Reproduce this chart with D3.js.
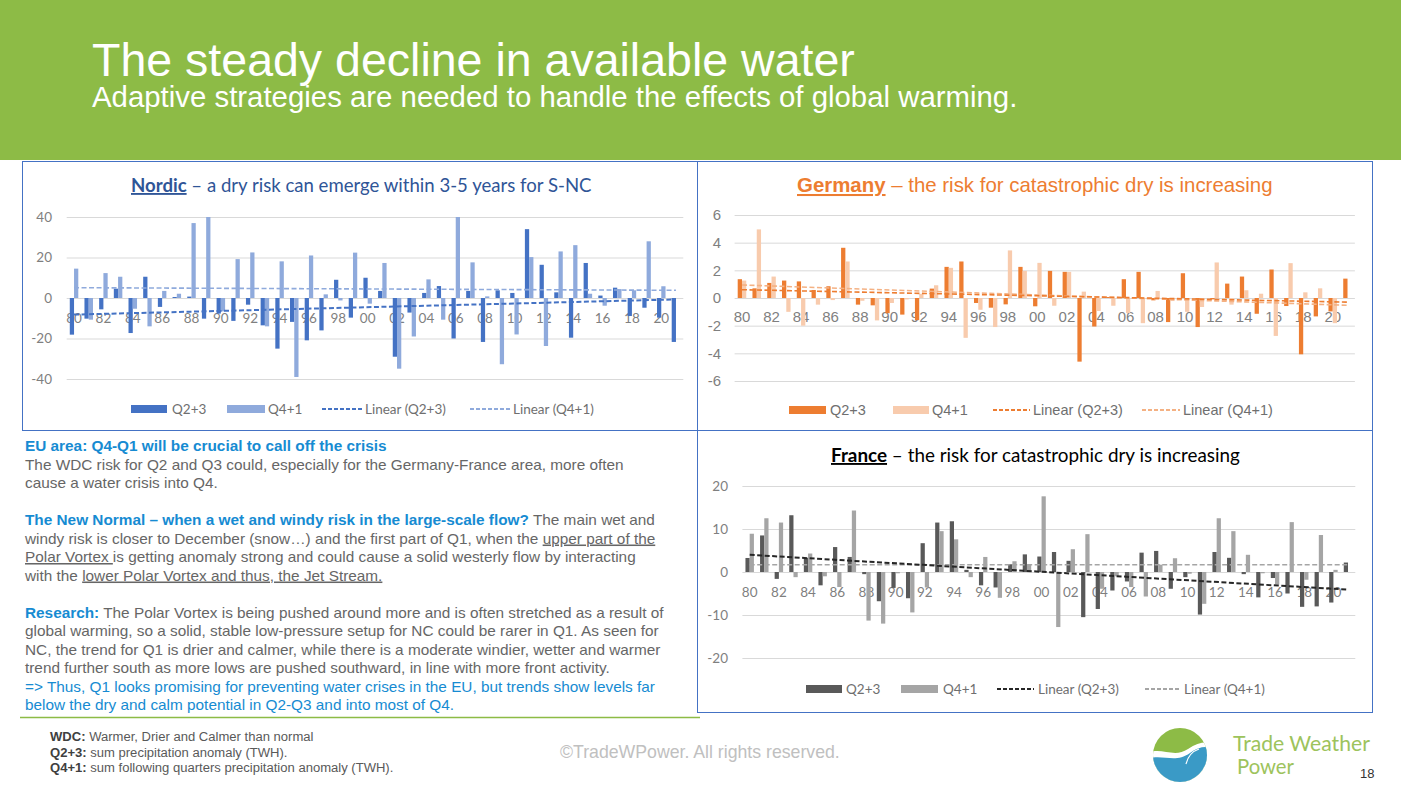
<!DOCTYPE html>
<html><head><meta charset="utf-8">
<script src="https://cdn.jsdelivr.net/npm/d3@7"></script>
<style>
html,body{margin:0;padding:0;background:#fff;}
svg{display:block;}
</style></head><body>
<svg id="s" width="1401" height="788"></svg>
<script>
// ---------- DATA ----------
const years = ["80","81","82","83","84","85","86","87","88","89","90","91","92","93","94","95","96","97","98","99",
               "00","01","02","03","04","05","06","07","08","09","10","11","12","13","14","15","16","17","18","19","20","21"];
const tickYears = ["80","82","84","86","88","90","92","94","96","98","00","02","04","06","08","10","12","14","16","18","20"];
const seriesNames = ["Q2+3","Q4+1","Linear (Q2+3)","Linear (Q4+1)"];

const nordicQ23 = [-18.1,-10.2,-5.6,4.6,-17.3,10.5,-4.4,0.5,0.7,-10.2,-7.7,-11.3,-3.3,-13.5,-25,-11.8,-20.9,-16,9,-9.7,
                   10,3.5,-29,-7.2,2.5,5.9,-20,3.5,-21.7,3.8,2.5,34,16.4,2.8,-19.6,17.3,1.2,5.1,-8.9,-4.8,-9.7,-21.7];
const nordicQ41 = [14.5,-10.7,12.3,10.5,-5.3,-14,3.5,2.1,37,40,-6.6,19.2,22.5,-14,18.1,-39,21,1.8,-1.2,22.4,
                   -2.8,17.3,-34.9,-19,9.2,-10.7,40,17.6,0.8,-32.7,-18,20.2,-23.7,23,26.1,2.1,-3.8,4.4,3.8,28,5.8,null];
const nordicTrendQ23 = [-8.2,-0.7];
const nordicTrendQ41 = [5.1,3.8];
const nordicTicks = [-40,-20,0,20,40];

const germanyQ23 = [1.36,0.7,1.09,1.26,1.2,0.58,0.85,3.63,-0.48,-0.53,-1.1,-1.2,-1.6,0.68,2.25,2.64,-0.36,-0.7,-0.46,2.25,
                    -0.6,1.96,1.89,-4.6,-2.06,0.07,1.36,1.89,-0.17,-1.74,1.79,-2.1,-0.1,1.04,1.55,-1.14,2.06,-0.58,-4.07,-1.33,-0.97,1.4];
const germanyQ41 = [1.26,4.96,1.55,-1.0,-2.0,-0.48,-0.15,2.64,-0.2,-1.62,-0.36,-0.1,0.3,0.92,2.18,-2.88,-0.85,-2.1,3.44,1.96,
                    2.54,-0.56,1.89,0.46,-0.94,-0.56,-1.09,-1.82,0.51,-0.22,-1.0,-0.65,2.57,-0.48,0.56,0.31,-2.74,2.52,0.41,0.7,-1.82,null];
const germanyTrendQ23 = [0.6,-0.3];
const germanyTrendQ41 = [0.94,-0.53];
const germanyTicks = [-6,-4,-2,0,2,4,6];

const franceQ23 = [3.26,8.5,-1.6,13.2,3.3,-3.1,5.8,3.5,-0.5,-6.8,-3.7,-6.1,6.7,11.5,11.8,0.5,-3.1,-3.6,1.8,4.1,
                   3.6,4.65,2.6,-10.5,-8.6,-4.3,-2.2,4.5,4.9,-3.9,-1.2,-9.9,4.65,3.3,-0.5,-5.9,-1.4,-5.0,-8.1,-8.0,-7.1,2.2];
const franceQ41 = [8.9,12.5,11.5,-1.2,4.3,-1.0,-3.5,14.3,-11.3,-12.0,-0.3,-9.4,-3.6,9.5,7.6,-1.2,3.5,-6.0,2.5,1.8,
                   17.6,-12.8,5.3,8.8,-3.9,-1.0,-3.5,-5.7,1.7,3.2,-0.4,-7.4,12.5,9.5,4.0,-0.3,-2.9,11.6,-1.8,8.6,0.5,null];
const franceTrendQ23 = [4.0,-4.1];
const franceTrendQ41 = [1.7,1.7];
const franceTicks = [-20,-10,0,10,20];

// ---------- TEXTS ----------
const slideTitle = "The steady decline in available water";
const slideSubtitle = "Adaptive strategies are needed to handle the effects of global warming.";
const bodyLines = [
  [["EU area: Q4-Q1 will be crucial to call off the crisis","h"]],
  [["The WDC risk for Q2 and Q3 could, especially for the Germany-France area, more often","n"]],
  [["cause a water crisis into Q4.","n"]],
  null,
  [["The New Normal – when a wet and windy risk in the large-scale flow?","h"],[" The main wet and","n"]],
  [["windy risk is closer to December (snow…) and the first part of Q1, when the ","n"],["upper part of the","u"]],
  [["Polar Vortex ","u"],["is getting anomaly strong and could cause a solid westerly flow by interacting","n"]],
  [["with the ","n"],["lower Polar Vortex and thus, the Jet Stream.","u"]],
  null,
  [["Research:","h"],[" The Polar Vortex is being pushed around more and is often stretched as a result of","n"]],
  [["global warming, so a solid, stable low-pressure setup for NC could be rarer in Q1. As seen for","n"]],
  [["NC, the trend for Q1 is drier and calmer, while there is a moderate windier, wetter and warmer","n"]],
  [["trend further south as more lows are pushed southward, in line with more front activity.","n"]],
  [["=> Thus, Q1 looks promising for preventing water crises in the EU, but trends show levels far","b"]],
  [["below the dry and calm potential in Q2-Q3 and into most of Q4.","b"]]
];
const footLines = [
  ["WDC:"," Warmer, Drier and Calmer than normal"],
  ["Q2+3:"," sum precipitation anomaly (TWH)."],
  ["Q4+1:"," sum following quarters precipitation anomaly (TWH)."]
];

const svg = d3.select("#s");
const ARIAL = "'Liberation Sans', Arial, sans-serif";
const CALIBRI = "Lato, 'Open Sans', sans-serif";

function fit(sel, target){
  const w = sel.node().getComputedTextLength();
  const fs = parseFloat(sel.attr("font-size"));
  sel.attr("font-size", fs*target/w);
  return fs*target/w;
}

// ---------- HEADER ----------
svg.append("rect").attr("x",0).attr("y",0).attr("width",1401).attr("height",160).attr("fill","#8DBB46");
fit(svg.append("text").attr("x",92).attr("y",76).attr("font-family",ARIAL).attr("font-size",46)
   .attr("fill","#fff").text(slideTitle), 763);
fit(svg.append("text").attr("x",92).attr("y",107).attr("font-family",ARIAL).attr("font-size",29)
   .attr("fill","#fff").text(slideSubtitle), 926);

// ---------- BOXES ----------
const boxC = "#4472C4";
[[22.5,161.5,675,269],[697.5,161.5,675,269],[697.5,430.5,675,282]].forEach(b=>{
  svg.append("rect").attr("x",b[0]).attr("y",b[1]).attr("width",b[2]).attr("height",b[3])
     .attr("fill","none").attr("stroke",boxC).attr("stroke-width",1);
});
svg.append("line").attr("x1",20).attr("x2",700).attr("y1",717.5).attr("y2",717.5)
   .attr("stroke","#8DBB46").attr("stroke-width",1.5);

// ---------- CHART ----------
function drawChart(c){
  const g = svg.append("g");
  const x = d3.scaleBand().domain(years).range([c.x0,c.x1]).paddingInner(0.42).paddingOuter(0.21);
  const xs = d3.scaleBand().domain(["a","b"]).range([0,x.bandwidth()]);
  const y = d3.scaleLinear().domain([c.ticks[0], c.ticks[c.ticks.length-1]]).range([c.yB,c.yT]);

  // grid + y labels
  const ya = g.append("g").attr("transform",`translate(${c.x0},0)`)
    .call(d3.axisLeft(y).tickValues(c.ticks).tickSize(-(c.x1-c.x0)).tickPadding(c.yPad).tickFormat(d=>String(d)));
  ya.select(".domain").remove();
  ya.selectAll("line").attr("stroke","#d9d9d9").attr("stroke-width",1);
  ya.selectAll("text").attr("fill","#7f7f7f").attr("font-family",c.font).attr("font-size",c.fs);

  // x labels
  const xa = g.append("g").attr("transform",`translate(0,${y(0)})`)
    .call(d3.axisBottom(x).tickValues(tickYears).tickSize(0).tickPadding(c.xPad));
  xa.select(".domain").remove();
  xa.selectAll("text").attr("fill","#7f7f7f").attr("font-family",c.font).attr("font-size",c.xfs);

  // bars
  const rows = years.map((yr,i)=>({yr, a:c.s1[i], b:c.s2[i]}));
  [["a",c.c1],["b",c.c2]].forEach(([k,col])=>{
    g.append("g").selectAll("rect").data(rows.filter(r=>r[k]!==null)).join("rect")
      .attr("x",r=>x(r.yr)+xs(k)).attr("width",xs.bandwidth())
      .attr("y",r=>Math.min(y(r[k]),y(0))).attr("height",r=>Math.abs(y(r[k])-y(0)))
      .attr("fill",col);
  });

  // trend lines
  const xc = yr => x(yr)+x.bandwidth()/2;
  [[c.t2,c.l2,c.lw2],[c.t1,c.l1,c.lw1]].forEach(([t,col,lw])=>{
    g.append("line").attr("x1",xc(years[0])).attr("x2",xc(years[years.length-1]))
      .attr("y1",y(t[0])).attr("y2",y(t[1]))
      .attr("stroke",col).attr("stroke-width",lw).attr("stroke-dasharray","5,2.5");
  });

  // legend
  const L = c.leg;
  const lg = g.append("g").attr("font-family",c.font).attr("font-size",c.lfs).attr("fill","#6f6f6f");
  lg.append("rect").attr("x",L[0]).attr("y",c.ly-4).attr("width",L[1]-L[0]).attr("height",8).attr("fill",c.c1);
  lg.append("text").attr("x",L[2]).attr("y",c.ly).attr("dy","0.35em").text(seriesNames[0]);
  lg.append("rect").attr("x",L[3]).attr("y",c.ly-4).attr("width",L[4]-L[3]).attr("height",8).attr("fill",c.c2);
  lg.append("text").attr("x",L[5]).attr("y",c.ly).attr("dy","0.35em").text(seriesNames[1]);
  lg.append("line").attr("x1",L[6]).attr("x2",L[7]).attr("y1",c.ly).attr("y2",c.ly)
    .attr("stroke",c.l1).attr("stroke-width",2).attr("stroke-dasharray","4,2");
  lg.append("text").attr("x",L[8]).attr("y",c.ly).attr("dy","0.35em").text(seriesNames[2]);
  lg.append("line").attr("x1",L[9]).attr("x2",L[10]).attr("y1",c.ly).attr("y2",c.ly)
    .attr("stroke",c.l2).attr("stroke-width",2).attr("stroke-dasharray","4,2");
  lg.append("text").attr("x",L[11]).attr("y",c.ly).attr("dy","0.35em").text(seriesNames[3]);

  // title
  const tt = svg.append("text").attr("x",c.tx).attr("y",c.ty).attr("font-family",c.tfont).attr("font-size",c.tfs).attr("fill",c.tcol);
  tt.append("tspan").attr("font-weight","bold").attr("text-decoration","underline").text(c.title[0]);
  tt.append("tspan").text(c.title[1]);
  fit(tt, c.tw);
}

drawChart({
  x0:66.7, x1:683.3, yB:379, yT:217, ticks:nordicTicks, yPad:14.7, xPad:15, font:CALIBRI, fs:13.5, xfs:13.5,
  s1:nordicQ23, s2:nordicQ41, c1:"#4472C4", c2:"#8FAADC", t1:nordicTrendQ23, t2:nordicTrendQ41,
  l1:"#4472C4", l2:"#8FAADC", lw1:2, lw2:1.6,
  leg:[131,167,172,227,265,268,322,362,365,470,510,513], ly:409, lfs:13.5,
  title:["Nordic"," – a dry risk can emerge within 3-5 years for S-NC"], tx:131, ty:192, tfont:CALIBRI, tfs:18, tcol:"#2F5597", tw:461
});
drawChart({
  x0:734.6, x1:1354.9, yB:381, yT:215, ticks:germanyTicks, yPad:13.6, xPad:13.6, font:ARIAL, fs:15, xfs:15,
  s1:germanyQ23, s2:germanyQ41, c1:"#ED7D31", c2:"#F8CBAD", t1:germanyTrendQ23, t2:germanyTrendQ41,
  l1:"#ED7D31", l2:"#F4B183", lw1:1.6, lw2:1.6,
  leg:[789,826,830,893,929,932,993,1030,1033,1142,1180,1183], ly:410, lfs:14.5,
  title:["Germany"," – the risk for catastrophic dry is increasing"], tx:797, ty:192, tfont:ARIAL, tfs:20, tcol:"#ED7D31", tw:476
});
drawChart({
  x0:742.4, x1:1355.3, yB:658, yT:486, ticks:franceTicks, yPad:14.4, xPad:15.6, font:CALIBRI, fs:13.5, xfs:13.5,
  s1:franceQ23, s2:franceQ41, c1:"#595959", c2:"#A5A5A5", t1:franceTrendQ23, t2:franceTrendQ41,
  l1:"#262626", l2:"#A5A5A5", lw1:2, lw2:1.6,
  leg:[806,842,846,901,938,943,997,1034,1038,1145,1181,1184], ly:689, lfs:13.5,
  title:["France"," – the risk for catastrophic dry is increasing"], tx:831, ty:462, tfont:CALIBRI, tfs:18, tcol:"#000", tw:409
});

// ---------- BODY TEXT ----------
const styles = {
  h:{fill:"#168BD2", weight:"bold", deco:"none"},
  b:{fill:"#168BD2", weight:"normal", deco:"none"},
  n:{fill:"#666666", weight:"normal", deco:"none"},
  u:{fill:"#666666", weight:"normal", deco:"underline"}
};
// size from reference line
const probe = svg.append("text").attr("font-family",ARIAL).attr("font-size",15).text(bodyLines[1][0][0]);
const bodyFs = fit(probe, 599);
probe.remove();
let by = 451;
bodyLines.forEach(line=>{
  if(line){
    const t = svg.append("text").attr("x",25).attr("y",by).attr("font-family",ARIAL).attr("font-size",bodyFs);
    line.forEach(([txt,st])=>{
      const s = styles[st];
      t.append("tspan").attr("fill",s.fill).attr("font-weight",s.weight).attr("text-decoration",s.deco)
       .style("white-space","pre").text(txt);
    });
    t.style("white-space","pre");
  }
  by += 18.5;
});

// ---------- FOOTER ----------
const fprobe = svg.append("text").attr("font-family",ARIAL).attr("font-size",12)
  .text(footLines[2][0]+footLines[2][1]);
const footFs = fit(fprobe, 343);
fprobe.remove();
footLines.forEach((f,i)=>{
  const t = svg.append("text").attr("x",50).attr("y",741+i*15.5).attr("font-family",ARIAL).attr("font-size",footFs).style("white-space","pre");
  t.append("tspan").attr("font-weight","bold").attr("fill","#404040").text(f[0]);
  t.append("tspan").attr("fill","#595959").text(f[1]);
});
fit(svg.append("text").attr("x",560).attr("y",758).attr("font-family",ARIAL).attr("font-size",17)
   .attr("fill","#c0c0c0").text("©TradeWPower. All rights reserved."), 280);

// ---------- LOGO ----------
const defs = svg.append("defs");
defs.append("clipPath").attr("id","lc").append("circle").attr("cx",1180).attr("cy",755).attr("r",27);
const lgo = svg.append("g").attr("clip-path","url(#lc)");
lgo.append("rect").attr("x",1150).attr("y",725).attr("width",60).attr("height",60).attr("fill","#8DBB46");
lgo.append("path").attr("d","M1150,752 C1163,748 1175,758 1188,749 C1197,743 1204,741 1212,743 L1212,790 L1150,790 Z").attr("fill","#ffffff");
lgo.append("path").attr("d","M1150,758 C1165,755 1176,763 1190,753 C1198,747 1205,746 1212,748 L1212,790 L1150,790 Z").attr("fill","#3A9AC6");
lgo.append("path").attr("d","M1186,764 C1188,756 1193,751 1199,749").attr("fill","none").attr("stroke","#fff").attr("stroke-width",1.2);
fit(svg.append("text").attr("x",1233).attr("y",751).attr("font-family",CALIBRI).attr("font-size",20)
   .attr("fill","#9DC35C").text("Trade Weather"), 137);
fit(svg.append("text").attr("x",1237).attr("y",774).attr("font-family",CALIBRI).attr("font-size",20)
   .attr("fill","#9DC35C").text("Power"), 57);
svg.append("text").attr("x",1360).attr("y",778).attr("font-family",ARIAL).attr("font-size",13)
   .attr("fill","#333").text("18");
</script>
</body></html>
